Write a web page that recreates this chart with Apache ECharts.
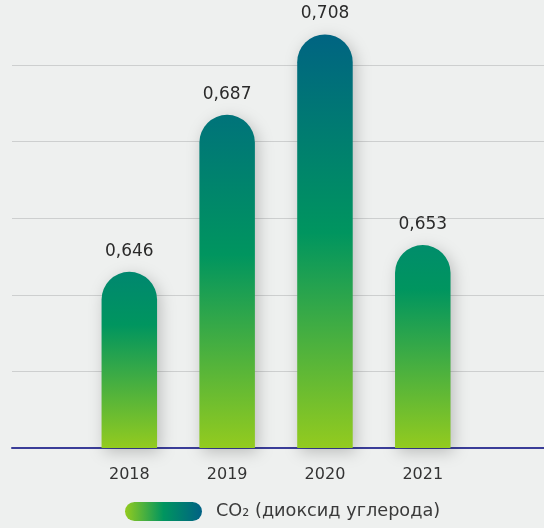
<!DOCTYPE html>
<html>
<head>
<meta charset="utf-8">
<script src="https://cdn.jsdelivr.net/npm/echarts@6/dist/echarts.min.js"></script>
<style>
html,body{margin:0;padding:0;background:#eef0ef;}
#chart{width:544px;height:528px;}
</style>
</head>
<body>
<div id="chart"></div>
<script>
// ---- data ----
const years = ['2018', '2019', '2020', '2021'];
const co2Values = [0.646, 0.687, 0.708, 0.653];
const seriesName = 'CO₂ (диоксид углерода)';
const yMin = 0.6, yMax = 0.717, yStep = 0.02;

// ---- styles (per-bar gradient look) ----
const barTopColors = ['#00876f', '#00737a', '#006482', '#008d6b'];
const greenStops = [0.30, 0.42, 0.48, 0.22];

const chart = echarts.init(document.getElementById('chart'));
const fmt = v => String(v).replace('.', ',');
const font = 'DejaVu Sans';

chart.setOption({
  backgroundColor: '#eef0ef',
  animation: false,
  grid: [
    {left: 12, right: 0, top: 0, bottom: 80},
    {left: 80.4, right: 72.3, top: 0, bottom: 80}
  ],
  xAxis: [
    {gridIndex: 0, type: 'category', data: years, boundaryGap: true,
     axisLine: {show: true, lineStyle: {color: '#3a3d98', width: 2}},
     axisTick: {show: false}, axisLabel: {show: false}},
    {gridIndex: 1, type: 'category', data: years,
     axisLine: {show: false}, axisTick: {show: false},
     axisLabel: {show: true, color: '#333', fontFamily: font, fontSize: 16, margin: 19}}
  ],
  yAxis: [
    {gridIndex: 0, type: 'value', min: yMin, max: yMax, interval: yStep,
     axisLine: {show: false}, axisTick: {show: false}, axisLabel: {show: false},
     splitLine: {show: true, showMaxLine: false, lineStyle: {color: '#cdcfcf', width: 1}}},
    {gridIndex: 1, type: 'value', min: yMin, max: yMax, interval: yStep, show: false,
     splitLine: {show: false}}
  ],
  legend: {
    left: 125, top: 502, padding: 0,
    itemWidth: 77, itemHeight: 19,
    data: [{
      name: seriesName,
      icon: 'path://M9.5,0 H67.5 A9.5,9.5 0 0 1 67.5,19 H9.5 A9.5,9.5 0 0 1 9.5,0 Z',
      itemStyle: {
        color: new echarts.graphic.LinearGradient(0, 0, 1, 0, [
          {offset: 0, color: '#93cb1f'},
          {offset: 0.5, color: '#00955f'},
          {offset: 1, color: '#006184'}
        ])
      }
    }],
    textStyle: {color: '#3a3a3a', fontFamily: font, fontSize: 17.7, padding: [0, 0, 0, 9]}
  },
  series: [{
    name: seriesName,
    type: 'bar',
    xAxisIndex: 1, yAxisIndex: 1,
    data: co2Values,
    barWidth: 55.5,
    itemStyle: {
      borderRadius: [27.75, 27.75, 0, 0],
      shadowBlur: 16,
      shadowColor: 'rgba(0,0,0,0.22)',
      shadowOffsetX: 3,
      shadowOffsetY: 4,
      color: function (p) {
        const i = p.dataIndex;
        return new echarts.graphic.LinearGradient(0, 0, 0, 1, [
          {offset: 0, color: barTopColors[i]},
          {offset: greenStops[i], color: '#00955f'},
          {offset: 1, color: '#93cb1f'}
        ]);
      }
    },
    label: {
      show: true, position: 'top', distance: 12,
      color: '#2a2a2a', fontFamily: font, fontSize: 17,
      formatter: p => fmt(p.value)
    }
  }]
});
</script>
</body>
</html>
